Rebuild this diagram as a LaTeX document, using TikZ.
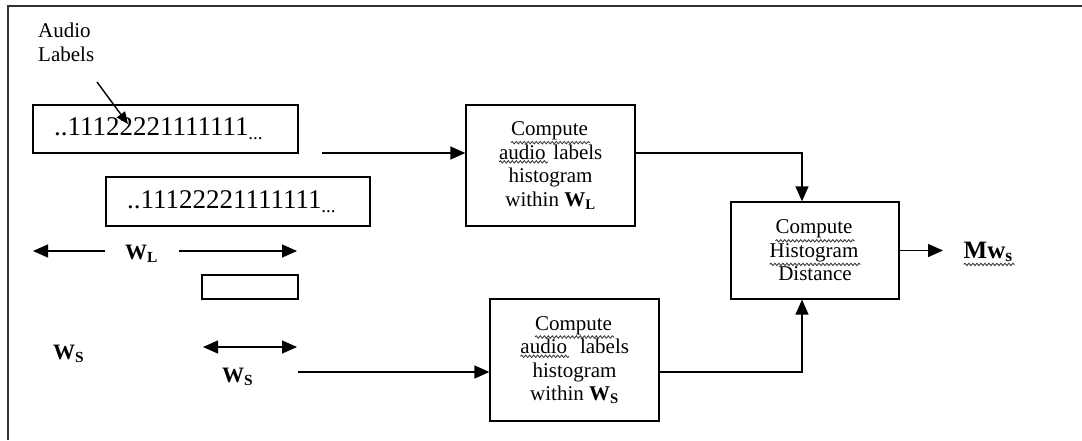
\documentclass[tikz,border=0pt]{standalone}
\usepackage{fontspec}
\setmainfont{Liberation Serif}
\usetikzlibrary{arrows.meta,decorations.pathmorphing}
\newcommand{\myfntA}{\fontsize{21}{23.5}\selectfont}
\newcommand{\myfntB}{\fontsize{27}{30}\selectfont}
\newcommand{\myfntC}{\fontsize{22}{24}\selectfont\bfseries}
\newcommand{\myfntD}{\fontsize{25}{27}\selectfont\bfseries}
\newcommand{\sqw}[1]{\tikz[baseline=(sqwn.base),x=1cm,y=1cm]{\node[inner sep=0pt,outer sep=0pt,minimum width=0pt,minimum height=0pt,draw=none,anchor=center] (sqwn) {#1};\draw[squig] ([yshift=-2.5pt]sqwn.south west) -- ([yshift=-2.5pt,xshift=2pt]sqwn.south east);}}
\tikzset{
  squig/.style={decorate,decoration={snake,amplitude=1.2pt,segment length=4pt},line width=0.9pt,black!75},
  box/.style={draw,line width=1.3pt,inner sep=0pt,align=center,font=\myfntA},
  strbox/.style={draw,line width=1.3pt,inner ysep=0pt,inner xsep=21pt,align=left,font=\myfntB},
  lbl/.style={inner sep=0pt,font=\myfntA},
  wlbl/.style={inner sep=0pt,font=\myfntC},
  arr/.style={line width=1.4pt,-{Triangle[length=15pt,width=13pt]}},
  darr/.style={line width=1.4pt,{Triangle[length=15pt,width=13pt]}-{Triangle[length=15pt,width=13pt]}},
  frame/.style={line width=2pt,black!80}
}
\begin{document}
\begin{tikzpicture}[x=1pt,y=-1pt]
\useasboundingbox (0,0) rectangle (1082,440);
% frame (top and left only)
\coordinate (fTL) at (8,6);
\coordinate (fTR) at (1082,6);
\coordinate (fBL) at (8,440);
\draw[frame] (fTR) -- (fTL) -- (fBL);

% audio labels
\node[lbl,align=left,anchor=north west] (al) at (38,23) {Audio\\Labels};
\coordinate (alA) at (97,82);
\coordinate (alB) at (128,124);
\draw[line width=1.4pt,-{Triangle[length=12pt,width=10pt]}] (alA) -- (alB);

% label strings
\node[strbox,text width=223pt,minimum height=48pt] (s1) at (165.5,129) {..11122221111111\textsubscript{...}};
\node[strbox,text width=222pt,minimum height=49pt] (s2) at (238,201.5) {..11122221111111\textsubscript{...}};

% window markers
\node[wlbl,anchor=base west] (WL) at (125,259) {W\textsubscript{L}};
\coordinate (wlA) at (105,251);
\coordinate (wlB) at (33,251);
\coordinate (wlC) at (179,251);
\coordinate (wlD) at (297,251);
\draw[arr] (wlA) -- (wlB);
\draw[arr] (wlC) -- (wlD);
\node[draw,line width=1.3pt,minimum width=96pt,minimum height=24pt,inner sep=0pt] (sb) at (250,287) {};
\node[wlbl,anchor=base west] (WSa) at (53,359) {W\textsubscript{S}};
\coordinate (wsA) at (203,347);
\coordinate (wsB) at (297,347);
\draw[darr] (wsA) -- (wsB);
\node[wlbl,anchor=base west] (WSb) at (222,382) {W\textsubscript{S}};

% processing boxes
\node[box,minimum width=169pt,minimum height=121pt] (cL) at (550.5,165.5)
  {\sqw{Compute}\\\sqw{audio} labels\\histogram\\within \textbf{W\textsubscript{L}}};
\node[box,minimum width=169pt,minimum height=122pt] (cS) at (574.5,360)
  {\sqw{Compute}\\\sqw{audio}\ \ labels\\histogram\\within \textbf{W\textsubscript{S}}};
\node[box,minimum width=168pt,minimum height=97pt] (dist) at (815,250.5)
  {\sqw{Compute}\\\sqw{Histogram}\\Distance};
\node[inner sep=0pt,font=\myfntD,anchor=base west] (mws) at (963,258) {\sqw{Mw\textsubscript{s}}};

% connectors
\coordinate (l1) at (322,153);
\coordinate (l2) at (298,372);
\coordinate (jx) at (802,250);
\draw[arr] (l1) -- (cL.west |- l1);
\draw[arr] (cL.east |- l1) -| (jx |- dist.north);
\draw[arr] (l2) -- (cS.west |- l2);
\draw[arr] (cS.east |- l2) -| (jx |- dist.south);
\draw[arr,shorten >=20pt] (dist.east) -- (mws.west |- dist.east);
\end{tikzpicture}
\end{document}
